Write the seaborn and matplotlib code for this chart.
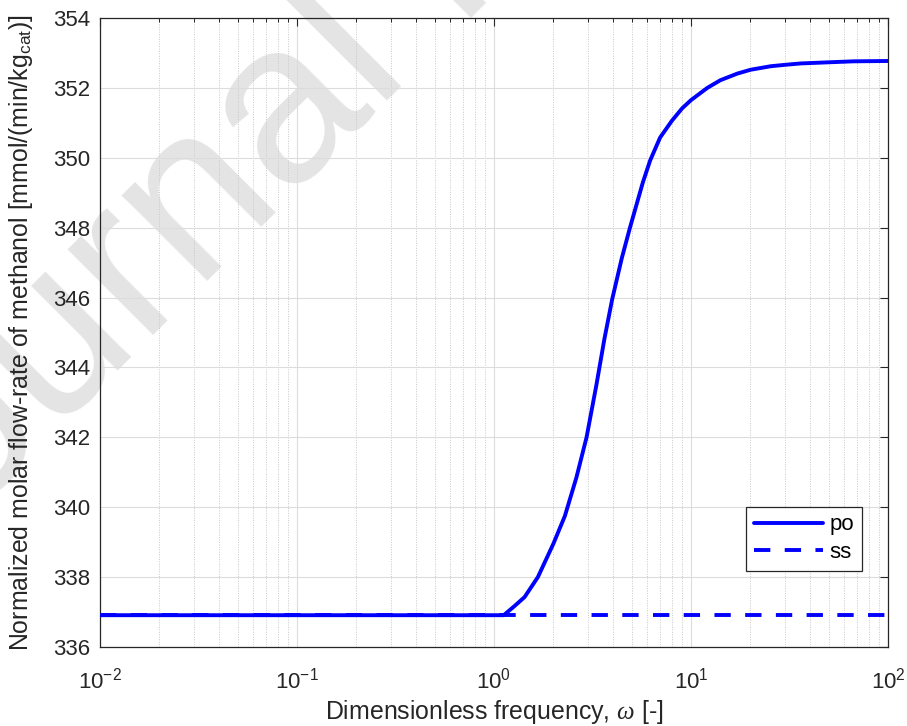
import numpy as np
import pandas as pd
import matplotlib
matplotlib.use("Agg")
import matplotlib.pyplot as plt
import seaborn as sns
from matplotlib.ticker import LogLocator, FixedLocator, NullFormatter

# ---- data ----
omega_po = [0.01, 1.12, 1.27, 1.43, 1.67, 2.0, 2.29, 2.62, 2.95, 3.31, 3.63,
            3.98, 4.45, 4.90, 5.70, 6.20, 6.97, 8.0, 9.0, 10.0, 12.1, 14.1,
            17.2, 20.1, 25.4, 30.0, 36.1, 48.9, 66.7, 100.0]
flow_po = [336.91, 336.91, 337.17, 337.43, 338.00, 338.95, 339.75, 340.85,
           342.00, 343.50, 344.80, 345.95, 347.12, 348.00, 349.30, 349.92,
           350.58, 351.06, 351.41, 351.65, 352.00, 352.22, 352.41, 352.52,
           352.62, 352.66, 352.70, 352.73, 352.76, 352.77]
omega_ss = [0.01, 100.0]
flow_ss = [336.91, 336.91]
series_labels = ["po", "ss"]
yticks = [336, 338, 340, 342, 344, 346, 348, 350, 352, 354]
xticks = [1e-2, 1e-1, 1e0, 1e1, 1e2]

df_po = pd.DataFrame({"omega": omega_po, "flow": flow_po})
df_ss = pd.DataFrame({"omega": omega_ss, "flow": flow_ss})

sns.set_style("white")
plt.rcParams["font.family"] = ["Liberation Sans", "DejaVu Sans"]
plt.rcParams["mathtext.fontset"] = "custom"
plt.rcParams["mathtext.rm"] = "Liberation Sans"
plt.rcParams["mathtext.it"] = "Liberation Serif:italic"
plt.rcParams["mathtext.bf"] = "Liberation Sans:bold"

dark = "#262626"
fig = plt.figure(figsize=(9.07, 7.26), dpi=100)
fig.patch.set_facecolor("white")

# watermark
fig.text(-118 / 907, 1 - 607 / 726, "Journal Pre-proof", rotation=45,
         rotation_mode="anchor", ha="left", va="baseline", fontsize=165,
         color="#e4e4e4", zorder=-1)

ax = fig.add_axes([100 / 907, 1 - 647 / 726, 788 / 907, 629 / 726])
ax.set_facecolor("none")

sns.lineplot(data=df_ss, x="omega", y="flow", ax=ax, color="#0000ff",
             linewidth=2.8, label=series_labels[1], zorder=2)
sns.lineplot(data=df_po, x="omega", y="flow", ax=ax, color="#0000ff",
             linewidth=2.8, label=series_labels[0], zorder=3)
ax.lines[0].set_dashes((4.2, 3.7))

ax.set_xscale("log")
ax.set_xlim(1e-2, 1e2)
ax.set_ylim(336, 354)
ax.xaxis.set_major_locator(FixedLocator(xticks))
ax.xaxis.set_minor_locator(LogLocator(base=10, subs=np.arange(2, 10), numticks=20))
ax.xaxis.set_minor_formatter(NullFormatter())
ax.yaxis.set_major_locator(FixedLocator(yticks))

ax.grid(True, which="major", color="#dcdcdc", linewidth=0.8, linestyle="-", zorder=0)
ax.grid(True, which="minor", axis="x", color="#c8c8c8", linewidth=0.7,
        linestyle=(0, (1, 1.5)), zorder=0)
ax.set_axisbelow(True)

for s in ax.spines.values():
    s.set_color(dark)
    s.set_linewidth(0.9)
    s.set_visible(True)

ax.tick_params(axis="both", which="both", direction="in", top=True, right=True,
               colors=dark, labelcolor=dark)
ax.tick_params(axis="both", which="major", length=6, width=0.8, labelsize=16)
ax.tick_params(axis="x", which="minor", length=3, width=0.7)
ax.tick_params(axis="x", which="major", pad=15)
ax.tick_params(axis="y", which="major", pad=7)

ax.set_xlabel(r"Dimensionless frequency, $\omega$ [-]", fontsize=17.9, color=dark)
ax.set_ylabel(r"Normalized molar flow-rate of methanol [mmol/(min/kg$_{\mathrm{cat}}$)]",
              fontsize=17.9, color=dark)
ax.xaxis.set_label_coords(0.5, -0.081)
ax.yaxis.set_label_coords(-0.082, 0.5)

handles, labels = ax.get_legend_handles_labels()
order = [labels.index("po"), labels.index("ss")]
leg = ax.legend([handles[i] for i in order], [labels[i] for i in order],
                loc="lower right", bbox_to_anchor=(0.967, 0.121), borderaxespad=0,
                fontsize=16, frameon=True, fancybox=False, shadow=False,
                handlelength=3.1, handletextpad=0.3, labelspacing=0.3,
                borderpad=0.35)
leg.get_frame().set_edgecolor(dark)
leg.get_frame().set_linewidth(0.9)
leg.get_frame().set_facecolor("white")
leg.get_frame().set_alpha(1.0)
for t in leg.get_texts():
    t.set_color("black")

fig.savefig("out.png", dpi=100, facecolor="white")
